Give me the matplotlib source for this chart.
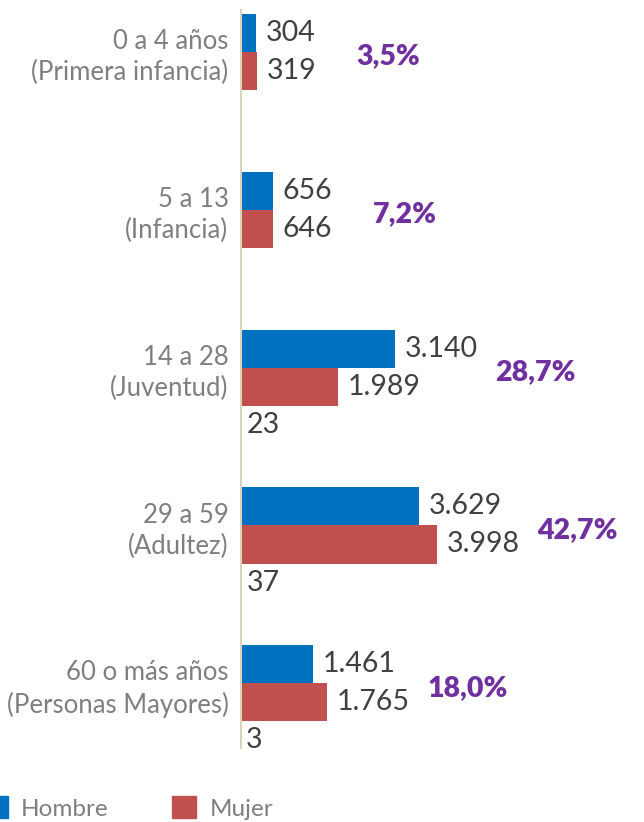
import matplotlib
matplotlib.use("Agg")
import matplotlib.pyplot as plt
import numpy as np
from matplotlib.patches import Patch

categories = ["0 a 4 años\n(Primera infancia)", "5 a 13\n(Infancia)", "14 a 28\n(Juventud)",
              "29 a 59\n(Adultez)", "60 o más años\n(Personas Mayores)"]
hombre = [304, 656, 3140, 3629, 1461]
mujer = [319, 646, 1989, 3998, 1765]
otro = [0, 0, 23, 37, 3]
porcentaje = ["3,5%", "7,2%", "28,7%", "42,7%", "18,0%"]

plt.rcParams['font.family'] = ['Lato', 'DejaVu Sans']

W, H = 644, 822
fig = plt.figure(figsize=(W / 100, H / 100), dpi=100)
ax = fig.add_axes([241 / W, 1 - 748 / H, 403 / W, 738 / H])

P = 4.15
base = np.arange(len(categories)) * P
c_h, c_m = '#0070C0', '#C0504D'
ax.barh(base + 0.5, hombre, height=1.0, color=c_h, label='Hombre')
ax.barh(base + 1.5, mujer, height=1.0, color=c_m, label='Mujer')

def fmt(v):
    return f"{v:,}".replace(",", ".")

for i in range(len(categories)):
    ax.annotate(fmt(hombre[i]), xy=(hombre[i], base[i] + 0.5), xytext=(7, 0),
                textcoords='offset points', va='center', ha='left', fontsize=20.5, color='#404040')
    ax.annotate(fmt(mujer[i]), xy=(mujer[i], base[i] + 1.5), xytext=(7, 0),
                textcoords='offset points', va='center', ha='left', fontsize=20.5, color='#404040')
    if otro[i] > 0:
        ax.annotate(fmt(otro[i]), xy=(otro[i], base[i] + 2.5), xytext=(3, 0),
                    textcoords='offset points', va='center', ha='left', fontsize=20.5, color='#404040')
    ax.annotate(porcentaje[i], xy=(max(hombre[i], mujer[i]), base[i] + 1.12), xytext=(72, 0),
                textcoords='offset points', va='center', ha='left', fontsize=20.5,
                fontweight='heavy', color='#7030A0')

ax.set_xlim(0, 403 / 0.049)
ax.set_ylim(19.3, -0.1)
ax.set_yticks(base + 1.0)
ax.set_yticklabels(categories, fontsize=18.5, color='#7F7F7F', linespacing=1.3)
ax.tick_params(axis='y', length=0, pad=9)
ax.set_xticks([])
for s in ['top', 'right', 'bottom']:
    ax.spines[s].set_visible(False)
ax.spines['left'].set_color('#D9D3BE')
ax.spines['left'].set_linewidth(1.5)

handles = [Patch(color=c_h, label='Hombre'), Patch(color=c_m, label='Mujer')]
leg = fig.legend(handles=handles, loc='center left', bbox_to_anchor=(-0.026, 1 - 808 / H),
                 ncol=2, frameon=False, fontsize=17.5, handlelength=1.0, handleheight=1.0,
                 handletextpad=0.55, columnspacing=2.6, borderpad=0, borderaxespad=0)
for t in leg.get_texts():
    t.set_color('#7F7F7F')

fig.savefig('out.png', dpi=100)
